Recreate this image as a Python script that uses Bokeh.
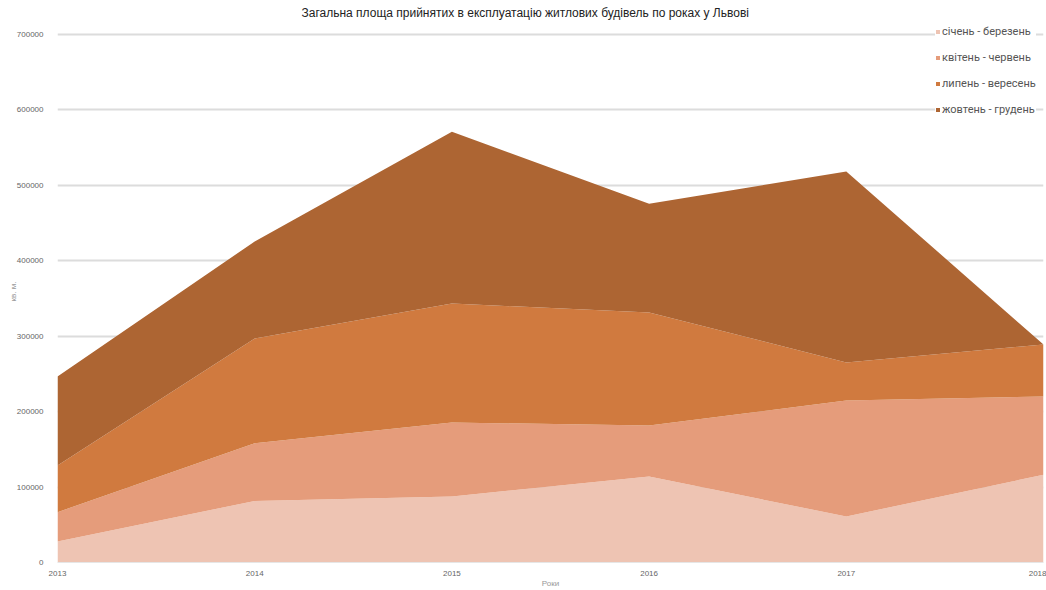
from bokeh.plotting import figure
from bokeh.models import ColumnDataSource, FixedTicker, NumeralTickFormatter, Legend, LegendItem
from bokeh.embed import file_html
from bokeh.resources import INLINE

# Area of residential buildings commissioned in Lviv, sq. m, by quarter
years = [2013, 2014, 2015, 2016, 2017, 2018]
q1 = [27800, 81600, 87500, 114000, 61000, 116300]
q2 = [38900, 76600, 98100, 67600, 153800, 103800]
q3 = [61900, 138800, 157800, 149800, 50400, 68900]
q4 = [118000, 128600, 227600, 144200, 253200, 0]

labels = ["січень - березень", "квітень - червень", "липень - вересень", "жовтень - грудень"]
colors = ["#EEC4B3", "#E59C7B", "#D07A3F", "#AD6533"]
y_ticks = [0, 100000, 200000, 300000, 400000, 500000, 600000, 700000]

source = ColumnDataSource(dict(year=years, q1=q1, q2=q2, q3=q3, q4=q4))

# a little headroom above the top grid line leaves room for the legend
p = figure(
    width=1046, height=590,
    x_range=(2013, 2018), y_range=(0, 718560),
    output_backend="svg", toolbar_location=None,
    min_border_left=57, min_border_right=3, min_border_top=20, min_border_bottom=28,
)
p.background_fill_color = "white"
p.border_fill_color = "white"
p.outline_line_color = None

p.title.text = "Загальна площа прийнятих в експлуатацію житлових будівель по роках у Львові"
p.title.align = "left"
p.title.vertical_align = "middle"
p.title.text_font = "Liberation Sans"
p.title.text_font_size = "12px"
p.title.text_font_style = "normal"
p.title.text_color = "#222222"
p.title.offset = 244
p.title.standoff = 0

renderers = p.varea_stack(stackers=["q1", "q2", "q3", "q4"], x="year",
                          color=colors, source=source)

# grid
p.xgrid.grid_line_color = None
p.ygrid.grid_line_color = "#DCDCDC"
p.ygrid.grid_line_width = 2
p.ygrid.ticker = FixedTicker(ticks=y_ticks)

# axes
p.yaxis.ticker = FixedTicker(ticks=y_ticks)
p.yaxis.formatter = NumeralTickFormatter(format="0")
p.yaxis.axis_line_color = None
p.yaxis.major_tick_line_color = None
p.yaxis.minor_tick_line_color = None
p.yaxis.major_label_text_font_size = "8px"
p.yaxis.major_label_text_color = "#666666"
p.yaxis.major_label_text_font = "Liberation Sans"
p.yaxis.major_label_standoff = 8
p.yaxis.axis_label = "кв. м."
p.yaxis.axis_label_text_font_size = "8px"
p.yaxis.axis_label_text_color = "#999999"
p.yaxis.axis_label_text_font_style = "normal"
p.yaxis.axis_label_text_font = "Liberation Sans"
p.yaxis.axis_label_standoff = -4

p.xaxis.ticker = FixedTicker(ticks=years)
p.xaxis.axis_line_color = "#E6E6E6"
p.xaxis.axis_line_width = 1
p.xaxis.major_tick_line_color = None
p.xaxis.minor_tick_line_color = None
p.xaxis.major_label_text_font_size = "8px"
p.xaxis.major_label_text_color = "#666666"
p.xaxis.major_label_text_font = "Liberation Sans"
p.xaxis.major_label_standoff = 2
p.xaxis.axis_label = "Роки"
p.xaxis.axis_label_text_font_size = "8px"
p.xaxis.axis_label_text_color = "#999999"
p.xaxis.axis_label_text_font_style = "normal"
p.xaxis.axis_label_text_font = "Liberation Sans"
p.xaxis.axis_label_standoff = 0

legend = Legend(
    items=[LegendItem(label=labels[i], renderers=[renderers[i]]) for i in range(4)],
    location=(878, 446),
    glyph_width=5, glyph_height=5,
    label_text_font="Roboto", label_text_font_size="11px", label_text_color="#555555",
    label_standoff=2, spacing=13, padding=4, margin=0,
    background_fill_color="white", background_fill_alpha=1.0,
    border_line_color=None,
)
p.add_layout(legend)

open("out.html", "w").write(file_html(p, INLINE))
